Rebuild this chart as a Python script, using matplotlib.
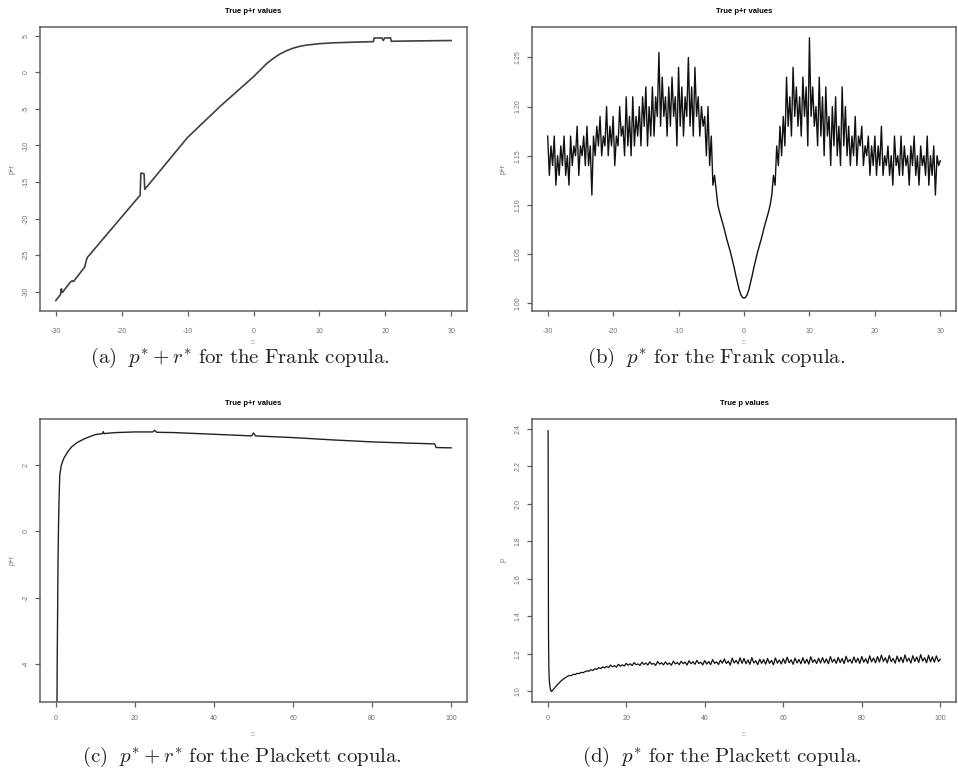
import numpy as np
import matplotlib.pyplot as plt

plt.rcParams["font.family"] = "Liberation Sans"
plt.rcParams["mathtext.fontset"] = "cm"
plt.rcParams["axes.unicode_minus"] = False

# (a) true p*+r* values, Frank copula
frank_theta_a = [-30, -29.3, -29.15, -29.1, -29.0, -27.8, -27.5, -27.3, -25.6, -25.4,
                 -25.2, -17.2, -17.1, -16.9, -16.6, -16.5, -10, -5, -3, -1, 0, 1, 2, 3,
                 4, 5, 6, 7, 8, 10, 12, 15, 18.2, 18.3, 19.5, 19.7, 19.9, 20.8, 20.9, 25, 30]
frank_pr = [-31.2, -30.4, -29.6, -30.0, -30.1, -28.7, -28.5, -28.6, -26.6, -25.8,
            -25.3, -16.8, -13.8, -13.8, -13.9, -16.0, -8.9, -4.6, -3.0, -1.4, -0.6, 0.3, 1.2, 1.9,
            2.5, 2.95, 3.3, 3.55, 3.72, 3.92, 4.03, 4.12, 4.2, 4.7, 4.7, 4.35, 4.7, 4.7, 4.25, 4.3, 4.35]

# (b) true p* values, Frank copula, theta = -30 ... 30 by 0.25
frank_p = [
    1.17, 1.13, 1.16, 1.14, 1.17, 1.12, 1.15, 1.13,
    1.16, 1.14, 1.17, 1.13, 1.15, 1.12, 1.17, 1.14,
    1.16, 1.15, 1.18, 1.13, 1.16, 1.15, 1.17, 1.14,
    1.18, 1.14, 1.16, 1.11, 1.17, 1.15, 1.18, 1.16,
    1.19, 1.15, 1.17, 1.16, 1.20, 1.15, 1.18, 1.16,
    1.19, 1.14, 1.17, 1.16, 1.20, 1.17, 1.18, 1.15,
    1.21, 1.16, 1.19, 1.15, 1.21, 1.16, 1.19, 1.17,
    1.20, 1.16, 1.21, 1.18, 1.22, 1.16, 1.20, 1.17,
    1.22, 1.17, 1.21, 1.19, 1.255, 1.18, 1.23, 1.19,
    1.21, 1.17, 1.22, 1.18, 1.23, 1.19, 1.21, 1.16,
    1.24, 1.18, 1.22, 1.17, 1.21, 1.19, 1.25, 1.18,
    1.22, 1.17, 1.24, 1.19, 1.21, 1.17, 1.20, 1.18,
    1.19, 1.15, 1.20, 1.14, 1.17, 1.12, 1.13, 1.115,
    1.10, 1.093, 1.087, 1.081, 1.075, 1.068, 1.062, 1.056,
    1.05, 1.043, 1.036, 1.028, 1.021, 1.014, 1.009, 1.006,
    1.005, 1.006, 1.009, 1.014, 1.021, 1.028, 1.036, 1.043,
    1.05, 1.056, 1.062, 1.068, 1.075, 1.081, 1.087, 1.093,
    1.10, 1.11, 1.13, 1.12, 1.16, 1.14, 1.18, 1.15,
    1.19, 1.16, 1.23, 1.18, 1.21, 1.17, 1.24, 1.19,
    1.22, 1.18, 1.21, 1.17, 1.23, 1.19, 1.22, 1.16,
    1.27, 1.19, 1.22, 1.18, 1.20, 1.16, 1.23, 1.17,
    1.21, 1.15, 1.22, 1.17, 1.19, 1.14, 1.20, 1.16,
    1.21, 1.15, 1.18, 1.14, 1.22, 1.16, 1.20, 1.15,
    1.18, 1.14, 1.17, 1.15, 1.19, 1.14, 1.17, 1.16,
    1.18, 1.14, 1.16, 1.15, 1.17, 1.13, 1.16, 1.14,
    1.17, 1.13, 1.16, 1.14, 1.18, 1.13, 1.15, 1.14,
    1.16, 1.13, 1.15, 1.12, 1.17, 1.14, 1.15, 1.13,
    1.17, 1.13, 1.16, 1.14, 1.15, 1.12, 1.16, 1.14,
    1.17, 1.13, 1.15, 1.12, 1.16, 1.14, 1.15, 1.13,
    1.17, 1.12, 1.15, 1.13, 1.16, 1.11, 1.15, 1.14,
    1.145]
frank_theta_b = np.linspace(-30, 30, len(frank_p))

# (c) true p*+r* values, Plackett copula
plackett_theta_c = [0.3, 0.35, 0.45, 0.55, 0.7, 0.85, 1.0, 1.4, 2, 3, 4, 5.4, 7, 8.4, 10,
                    11.8, 12, 12.2, 15, 20, 24.5, 25, 25.5, 30, 40, 49.5, 50, 50.5,
                    60, 70, 80, 90, 95.8, 96.2, 100]
plackett_pr = [-5.14, -4.0, -2.5, -1.0, 0.3, 1.1, 1.7, 2.0, 2.2, 2.4, 2.55, 2.68, 2.78, 2.85, 2.92,
               2.95, 3.01, 2.95, 2.98, 3.0, 3.0, 3.05, 2.99, 2.98, 2.93, 2.88, 2.97, 2.88,
               2.83, 2.76, 2.7, 2.66, 2.64, 2.53, 2.52]

# (d) true p* values, Plackett copula
plackett_head_theta = [0.1, 0.15, 0.2, 0.3, 0.4, 0.6, 0.8, 0.95, 1.2, 1.6, 2, 2.5, 3, 3.5, 4, 4.5]
plackett_head_p = [2.39, 1.8, 1.3, 1.12, 1.06, 1.02, 1.005, 1.0, 1.005, 1.015, 1.025, 1.037,
                   1.048, 1.058, 1.066, 1.074]
# theta = 5 ... 100 by 0.5
plackett_tail_p = [
    1.080, 1.086, 1.084, 1.092, 1.090, 1.097, 1.095, 1.102, 1.100, 1.106,
    1.110, 1.108, 1.116, 1.112, 1.121, 1.118, 1.127, 1.122, 1.131, 1.126,
    1.134, 1.128, 1.141, 1.132, 1.138, 1.130, 1.145, 1.135, 1.142, 1.136,
    1.150, 1.140, 1.148, 1.138, 1.154, 1.143, 1.147, 1.139, 1.156, 1.144,
    1.152, 1.141, 1.158, 1.145, 1.150, 1.139, 1.160, 1.146, 1.153, 1.142,
    1.158, 1.144, 1.152, 1.140, 1.162, 1.147, 1.155, 1.143, 1.161, 1.148,
    1.157, 1.141, 1.164, 1.148, 1.159, 1.145, 1.166, 1.149, 1.156, 1.142,
    1.165, 1.146, 1.160, 1.143, 1.170, 1.150, 1.158, 1.144, 1.167, 1.151,
    1.174, 1.149, 1.162, 1.141, 1.178, 1.152, 1.166, 1.147, 1.180, 1.150,
    1.176, 1.148, 1.168, 1.145, 1.181, 1.152, 1.164, 1.143, 1.172, 1.150,
    1.170, 1.146, 1.176, 1.150, 1.166, 1.142, 1.179, 1.151, 1.168, 1.147,
    1.175, 1.150, 1.183, 1.153, 1.169, 1.145, 1.178, 1.152, 1.171, 1.148,
    1.180, 1.150, 1.172, 1.146, 1.185, 1.155, 1.170, 1.149, 1.177, 1.152,
    1.181, 1.153, 1.174, 1.148, 1.186, 1.156, 1.173, 1.150, 1.182, 1.154,
    1.176, 1.149, 1.188, 1.157, 1.172, 1.151, 1.184, 1.155, 1.178, 1.150,
    1.187, 1.156, 1.175, 1.150, 1.190, 1.158, 1.179, 1.153, 1.186, 1.157,
    1.194, 1.160, 1.180, 1.152, 1.192, 1.159, 1.176, 1.151, 1.189, 1.158,
    1.183, 1.154, 1.195, 1.161, 1.178, 1.152, 1.191, 1.160, 1.184, 1.155,
    1.197, 1.162, 1.180, 1.153, 1.193, 1.158, 1.185, 1.156, 1.190, 1.160,
    1.172]
plackett_theta_d = plackett_head_theta + list(np.linspace(5, 100, len(plackett_tail_p)))
plackett_p = plackett_head_p + plackett_tail_p

W, H = 958, 778
fig = plt.figure(figsize=(W / 100, H / 100), dpi=100)

def panel(l, t, r, b):
    return fig.add_axes([l / W, 1 - b / H, (r - l) / W, (b - t) / H])

def txt(x, y, s, **kw):
    fig.text(x / W, 1 - y / H, s, ha="center", va="center", **kw)

def r_style(ax, xticks, yticks, xlim, ylim, yfmt, xpad):
    ax.set_xlim(xlim)
    ax.set_ylim(ylim)
    ax.set_xticks(xticks)
    ax.set_yticks(yticks)
    ax.set_yticklabels([yfmt.format(v) for v in yticks], rotation=90, va="center")
    for s in ax.spines.values():
        s.set_color("#606060")
        s.set_linewidth(1.1)
    ax.tick_params(axis="both", colors="#606060", labelcolor="#707070", labelsize=5,
                   length=3.5, width=0.9)
    ax.tick_params(axis="x", pad=xpad)
    ax.tick_params(axis="y", pad=4)

# (a)
ax = panel(40, 27, 467, 311)
ax.plot(frank_theta_a, frank_pr, color="#404040", lw=1.2)
r_style(ax, [-30, -20, -10, 0, 10, 20, 30], [-30, -25, -20, -15, -10, -5, 0, 5],
        (-32.4, 32.4), (-32.64, 6.2), "{:d}", 9)
ax.set_title("True p+r values", fontsize=5.5, fontweight="bold", pad=10)
txt(12, 169, "p+r", fontsize=5, color="#707070", rotation=90)
txt(253, 342, "\u25a1", fontsize=4, color="#a0a0a0")
txt(240, 358, r"$\mathrm{(a)}\ \ p^{*}+r^{*}\ \mathrm{for\ the\ Frank\ copula.}$",
    fontsize=15, color="#222222")

# (b)
ax = panel(532, 27, 956, 311)
ax.plot(frank_theta_b, frank_p, color="#111111", lw=1.0)
r_style(ax, [-30, -20, -10, 0, 10, 20, 30], [1.00, 1.05, 1.10, 1.15, 1.20, 1.25],
        (-32.4, 32.4), (0.992, 1.281), "{:.2f}", 9)
ax.set_title("True p+r values", fontsize=5.5, fontweight="bold", pad=10)
txt(503, 169, "p+r", fontsize=5, color="#707070", rotation=90)
txt(744, 342, "\u25a1", fontsize=4, color="#a0a0a0")
txt(716, 358, r"$\mathrm{(b)}\ \ p^{*}\ \mathrm{for\ the\ Frank\ copula.}$",
    fontsize=15, color="#222222")

# (c)
ax = panel(40, 419, 467, 702)
ax.plot(plackett_theta_c, plackett_pr, color="#222222", lw=1.0)
r_style(ax, [0, 20, 40, 60, 80, 100], [-4, -2, 0, 2],
        (-4, 104), (-5.14, 3.39), "{:d}", 6)
ax.set_title("True p+r values", fontsize=5.5, fontweight="bold", pad=10)
txt(12, 560, "p+r", fontsize=5, color="#707070", rotation=90)
txt(253, 735, "\u25a1", fontsize=4, color="#a0a0a0")
txt(242, 757, r"$\mathrm{(c)}\ \ p^{*}+r^{*}\ \mathrm{for\ the\ Plackett\ copula.}$",
    fontsize=15, color="#222222")

# (d)
ax = panel(532, 419, 956, 702)
ax.plot(plackett_theta_d, plackett_p, color="#111111", lw=0.9)
r_style(ax, [0, 20, 40, 60, 80, 100], [1.0, 1.2, 1.4, 1.6, 1.8, 2.0, 2.2, 2.4],
        (-4, 104), (0.944, 2.453), "{:.1f}", 6)
ax.set_title("True p values", fontsize=5.5, fontweight="bold", pad=10)
txt(503, 560, "p", fontsize=5, color="#707070", rotation=90)
txt(744, 735, "\u25a1", fontsize=4, color="#a0a0a0")
txt(722, 757, r"$\mathrm{(d)}\ \ p^{*}\ \mathrm{for\ the\ Plackett\ copula.}$",
    fontsize=15, color="#222222")

fig.savefig("out.png", dpi=100)
